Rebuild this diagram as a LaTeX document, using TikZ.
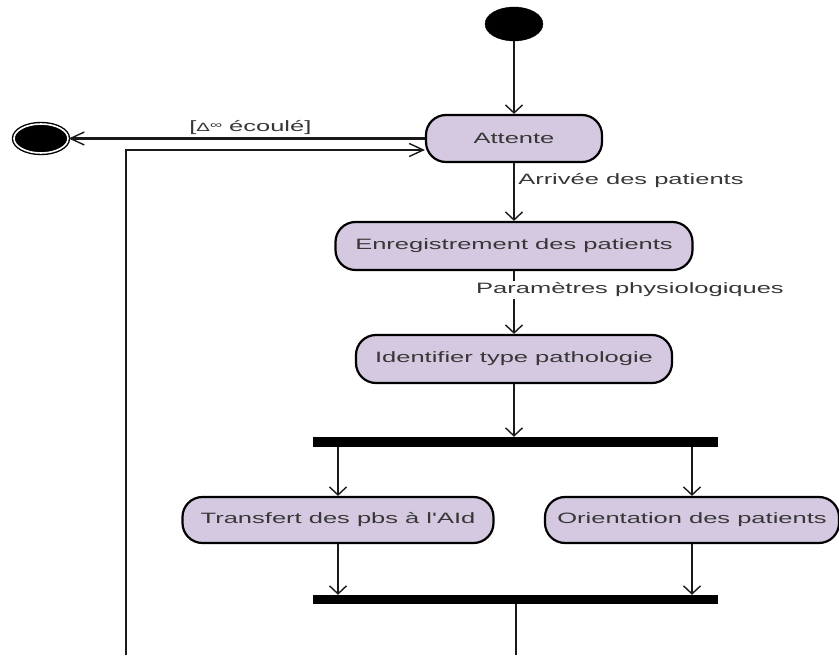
\documentclass[tikz,border=0pt]{standalone}
\usepackage{fontspec}
\usetikzlibrary{arrows.meta,shapes.geometric}
\newfontfamily\diagfont{Liberation Sans}[FakeStretch=1.7]
\definecolor{boxfill}{RGB}{212,201,224}
\definecolor{txtc}{RGB}{55,55,55}
\definecolor{linec}{RGB}{25,25,25}
\tikzset{
  act/.style={draw=black, line width=2.2pt, fill=boxfill, rounded corners=20pt,
    text=txtc, font=\diagfont\fontsize{15}{18}\selectfont, inner sep=0pt},
  bar/.style={fill=black, draw=none, inner sep=0pt, minimum width=405pt},
  conn/.style={draw=linec, line width=2.5pt},
  varrow/.style={conn, -{Straight Barb[length=8pt,width=17pt,line width=1.4pt]}},
  harrow/.style={conn, -{Straight Barb[length=14pt,width=13pt,line width=1.4pt]}},
  lbl/.style={text=txtc, font=\diagfont\fontsize{15}{18}\selectfont, inner sep=1pt},
}
\begin{document}
\begin{tikzpicture}[x=1pt,y=-1pt]
\useasboundingbox (0,0) rectangle (839,655);
% nodes
\node[ellipse, fill=black, draw=black, minimum width=58pt, minimum height=34pt, inner sep=0pt] (start) at (514,24) {};
\node[act, minimum width=176pt, minimum height=47pt] (attente) at (514,138.5) {Attente};
\node[act, minimum width=357pt, minimum height=48pt] (enr) at (514,246) {Enregistrement des patients};
\node[act, minimum width=316pt, minimum height=48pt] (ident) at (514,359) {Identifier type pathologie};
\node[bar, minimum height=10pt] (fork) at (515.5,442) {};
\node[act, minimum width=311pt, minimum height=46pt] (transfert) at (338,520) {Transfert des pbs à l'AId};
\node[act, minimum width=294pt, minimum height=46pt] (orient) at (692,520) {Orientation des patients};
\node[bar, minimum height=9pt] (join) at (515.5,599.5) {};
\node[ellipse, fill=black, draw=black, double=white, double distance=1.6pt, line width=1.4pt,
  minimum width=54pt, minimum height=29pt, inner sep=0pt] (endn) at (41,138.5) {};
\coordinate (loopbot) at (126,662);
\coordinate (joinbot) at (516,662);
% connectors
\draw[varrow] (start) -- (attente.north);
\draw[varrow] (attente.south) -- node[lbl, anchor=west, pos=0.3, xshift=2pt] {Arrivée des patients} (enr.north);
\draw[varrow] (enr.south) -- (ident.north);
\node[lbl, fill=white, inner sep=2pt] (param) at (630,290) {Paramètres physiologiques};
\draw[varrow] (ident.south) -- (ident.south |- fork.north);
\draw[varrow] (fork.south -| transfert.north) -- (transfert.north);
\draw[varrow] (fork.south -| orient.north) -- (orient.north);
\draw[varrow] (transfert.south) -- (transfert.south |- join.north);
\draw[varrow] (orient.south) -- (orient.south |- join.north);
\draw[conn] (join.south -| joinbot) -- (joinbot);
\draw[harrow] (attente.west) -- node[lbl, above=2pt, pos=0.49] {[{\fontsize{12}{14}\selectfont Δ}\raisebox{3pt}{\fontsize{10}{12}\selectfont ∞} écoulé]} (endn.east);
\draw[harrow] (loopbot) |- ([yshift=-11.5pt]attente.west);
\end{tikzpicture}
\end{document}
